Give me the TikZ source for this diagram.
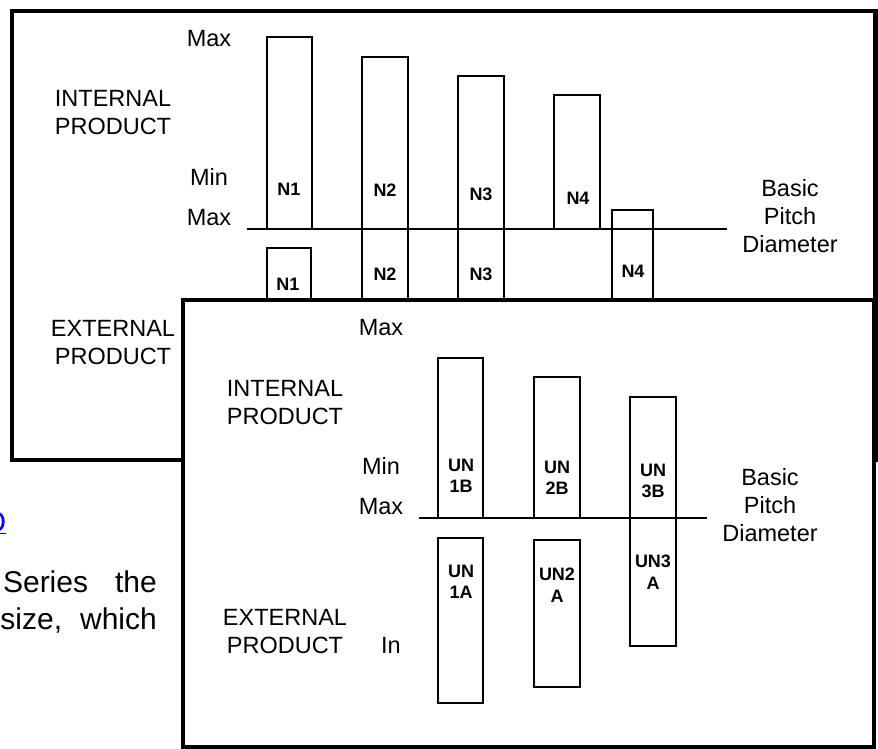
\documentclass[tikz,border=0pt]{standalone}
\usepackage{fontspec}
\setmainfont{Liberation Sans}
\usetikzlibrary{positioning}

\begin{document}
\begin{tikzpicture}[
  x=1pt, y=-1pt,
  font=\fontsize{23.5}{28}\selectfont,
  frame/.style={
    draw,
    line width=4.5pt
  },
  bar/.style={
    draw,
    line width=2.6pt
  },
  pitch/.style={line width=2.8pt},
  tag/.style={
    font=\fontsize{18}{21.5}\selectfont\bfseries,
    align=center,
    inner sep=0pt
  },
  side/.style={align=center, inner sep=0pt},
  page/.style={font=\fontsize{30}{35}\selectfont, inner sep=0pt}
]
\useasboundingbox (0,0) rectangle (878,749);

% Page text behind the figure
\node[page, anchor=base east, text=blue] (link) at (6.5,532) {\underline{O}};
\node[page, anchor=base east] (line1) at (157,592) {Series\hspace{27pt}the};
\node[page, anchor=base east] (line2) at (157,629) {size,\hspace{18pt}which};

% First sheet
\draw[frame, fill=white] (12,11) rectangle (875.5,460);

% Labels, first sheet
\node[side] (max1) at (209,39) {Max};
\node[side] (int1) at (113,113) {INTERNAL\\PRODUCT};
\node[side] (min1) at (209,177) {Min};
\node[side] (maxb1) at (209,218) {Max};
\node[side] (ext1) at (113,343) {EXTERNAL\\PRODUCT};
\node[side] (bpd1) at (790,216) {Basic\\Pitch\\Diameter};

% Internal bars
\draw[bar] (267,229) rectangle (312,37);
\draw[bar] (362,229) rectangle (408,57);
\draw[bar] (458,229) rectangle (504,76);
\draw[bar] (554,229) rectangle (600,95);

% External bars
\draw[bar] (267,302) rectangle (311,248);
\draw[bar] (362,302) rectangle (408,229);
\draw[bar] (458,302) rectangle (504,229);
\draw[bar] (612,302) rectangle (653,210);

\draw[pitch] (247,229) -- (727,229);

\node[tag] (n1i) at (289,189) {N1};
\node[tag] (n2i) at (385,190) {N2};
\node[tag] (n3i) at (481,194) {N3};
\node[tag] (n4i) at (578,198) {N4};
\node[tag] (n1e) at (288,284) {N1};
\node[tag] (n2e) at (385,274) {N2};
\node[tag] (n3e) at (481,274) {N3};
\node[tag] (n4e) at (633,271) {N4};

% Second sheet
\draw[frame, fill=white] (183,300) rectangle (874,747);

% Labels, second sheet
\node[side] (max2) at (381,328) {Max};
\node[side] (int2) at (285,403) {INTERNAL\\PRODUCT};
\node[side] (min2) at (381,466) {Min};
\node[side] (maxb2) at (381,507) {Max};
\node[side] (ext2) at (285,632) {EXTERNAL\\PRODUCT};
\node[side] (in2) at (391,645) {In};
\node[side] (bpd2) at (770,505) {Basic\\Pitch\\Diameter};

% Bars
\draw[bar] (438,518) rectangle (483,358);
\draw[bar] (534,518) rectangle (580,377);
\draw[bar] (630,518) rectangle (676,397);
\draw[bar] (438,538) rectangle (483,703);
\draw[bar] (534,540) rectangle (580,687);
\draw[bar] (630,518) rectangle (676,646);

\draw[pitch] (419,518) -- (707,518);

\node[tag] (un1b) at (461,476) {UN\\1B};
\node[tag] (un2b) at (557,478) {UN\\2B};
\node[tag] (un3b) at (653,481) {UN\\3B};
\node[tag] (un1a) at (461,582) {UN\\1A};
\node[tag] (un2a) at (557,585) {UN2\\A};
\node[tag] (un3a) at (653,572) {UN3\\A};

\end{tikzpicture}
\end{document}
